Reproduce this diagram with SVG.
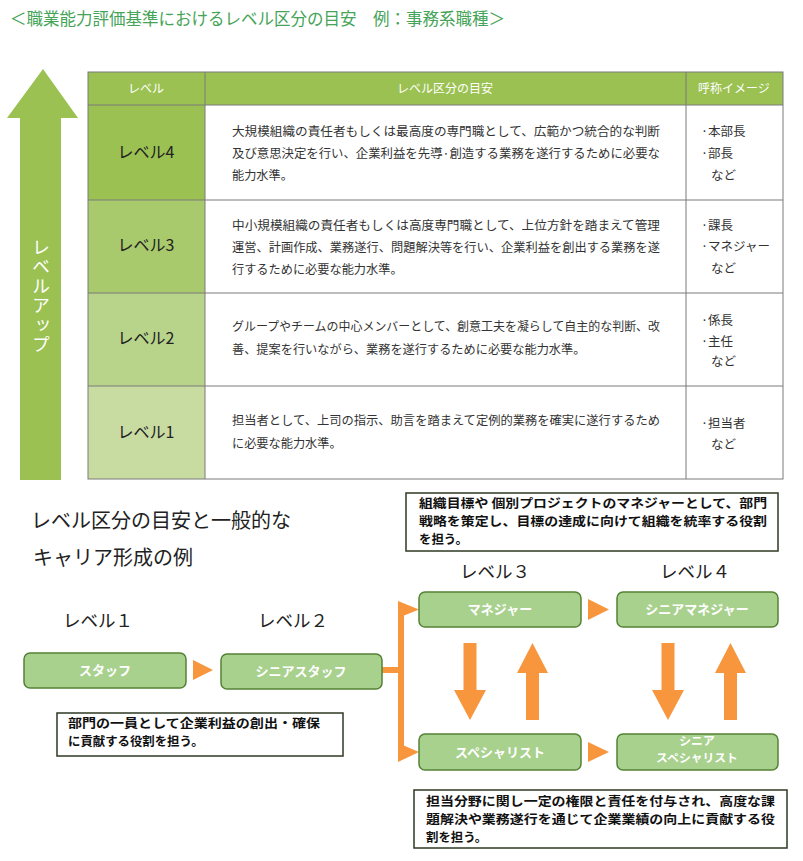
<svg xmlns="http://www.w3.org/2000/svg" width="803" height="861" viewBox="0 0 803 861">
<style>
text{font-family:"Noto Sans CJK JP","Noto Sans",sans-serif;}
.title{font-size:16.5px;fill:#45a457;}
.hdr{font-size:12px;fill:#ffffff;text-anchor:middle;}
.lvl{font-size:16px;fill:#222222;text-anchor:middle;}
.desc{font-size:12.2px;fill:#333333;}
.name{font-size:12.5px;fill:#333333;}
.grid{stroke:#7a7a7a;stroke-width:1;fill:none;}
.h2{font-size:20px;fill:#222222;}
.lv{font-size:17.5px;fill:#222222;text-anchor:middle;}
.box{fill:#a9d18e;stroke:#548235;stroke-width:1.5;}
.btxt{font-size:13px;font-weight:bold;fill:#ffffff;text-anchor:middle;}
.call{fill:#ffffff;stroke:#2e3a22;stroke-width:1.5;}
.ctxt{font-size:12.4px;font-weight:bold;fill:#111111;}
.or{fill:#f7963c;}
</style>

<text class="title" x="10" y="25">＜職業能力評価基準におけるレベル区分の目安　例：事務系職種＞</text>

<g id="levelup-arrow">
  <polygon points="43,69 78,118 61,118 61,480 20,480 20,118 7,118" fill="#9bc152"/>
  <text x="41" y="238" style="writing-mode:vertical-rl;font-size:18px;fill:#ffffff;letter-spacing:1.5px">レベルアップ</text>
</g>

<g id="table">
  <rect x="88" y="72" width="695" height="33" fill="#9bc152"/>
  <rect x="88" y="105" width="117" height="95" fill="#9bc152"/>
  <rect x="88" y="200" width="117" height="93" fill="#a9ca6c"/>
  <rect x="88" y="293" width="117" height="93" fill="#b8d38a"/>
  <rect x="88" y="386" width="117" height="93" fill="#c8dca2"/>
  <rect x="88" y="72" width="695" height="407" class="grid"/>
  <path class="grid" d="M88 105H783M88 200H783M88 293H783M88 386H783M205 72V479M686 72V479"/>
  <text class="hdr" x="146" y="93">レベル</text>
  <text class="hdr" x="445" y="93">レベル区分の目安</text>
  <text class="hdr" x="734" y="93">呼称イメージ</text>

  <g id="row-level4">
    <text class="lvl" x="146" y="158">レベル4</text>
    <text class="desc" x="232" y="136" textLength="428" lengthAdjust="spacingAndGlyphs">大規模組織の責任者もしくは最高度の専門職として、広範かつ統合的な判断</text>
    <text class="desc" x="232" y="158" textLength="428" lengthAdjust="spacingAndGlyphs">及び意思決定を行い、企業利益を先導·創造する業務を遂行するために必要な</text>
    <text class="desc" x="232" y="180">能力水準。</text>
    <text class="name" x="701" y="136">·本部長</text>
    <text class="name" x="701" y="158">·部長</text>
    <text class="name" x="711" y="180">など</text>
  </g>
  <g id="row-level3">
    <text class="lvl" x="146" y="251">レベル3</text>
    <text class="desc" x="232" y="230" textLength="428" lengthAdjust="spacingAndGlyphs">中小規模組織の責任者もしくは高度専門職として、上位方針を踏まえて管理</text>
    <text class="desc" x="232" y="252" textLength="428" lengthAdjust="spacingAndGlyphs">運営、計画作成、業務遂行、問題解決等を行い、企業利益を創出する業務を遂</text>
    <text class="desc" x="232" y="274">行するために必要な能力水準。</text>
    <text class="name" x="701" y="230">·課長</text>
    <text class="name" x="701" y="251">·マネジャー</text>
    <text class="name" x="711" y="273">など</text>
  </g>
  <g id="row-level2">
    <text class="lvl" x="146" y="344">レベル2</text>
    <text class="desc" x="232" y="331" textLength="428" lengthAdjust="spacingAndGlyphs">グループやチームの中心メンバーとして、創意工夫を凝らして自主的な判断、改</text>
    <text class="desc" x="232" y="354">善、提案を行いながら、業務を遂行するために必要な能力水準。</text>
    <text class="name" x="701" y="325">·係長</text>
    <text class="name" x="701" y="346">·主任</text>
    <text class="name" x="711" y="366">など</text>
  </g>
  <g id="row-level1">
    <text class="lvl" x="146" y="438">レベル1</text>
    <text class="desc" x="232" y="425" textLength="428" lengthAdjust="spacingAndGlyphs">担当者として、上司の指示、助言を踏まえて定例的業務を確実に遂行するため</text>
    <text class="desc" x="232" y="448">に必要な能力水準。</text>
    <text class="name" x="701" y="428">·担当者</text>
    <text class="name" x="711" y="449">など</text>
  </g>
</g>

<g id="career-heading">
  <text class="h2" x="31" y="528">レベル区分の目安と一般的な</text>
  <text class="h2" x="33" y="565">キャリア形成の例</text>
</g>

<g id="level-labels">
  <text class="lv" x="98" y="627">レベル１</text>
  <text class="lv" x="293" y="627">レベル２</text>
  <text class="lv" x="495" y="578">レベル３</text>
  <text class="lv" x="695" y="578">レベル４</text>
</g>

<g id="connectors">
  <polygon class="or" points="193,660 213,670 193,680"/>
  <rect class="or" x="381" y="667" width="21" height="6"/>
  <rect class="or" x="398" y="606" width="6" height="149"/>
  <polygon class="or" points="398,601 419,609.5 398,618"/>
  <polygon class="or" points="398,743 419,752 398,762"/>
  <polygon class="or" points="588,599 609,609.5 588,620"/>
  <polygon class="or" points="588,742 609,752 588,762"/>
  <path class="or" d="M463.5 643H476.5V690H486L470 720L454 690H463.5Z"/>
  <path class="or" d="M526 720H539V673H548L532.5 643L517 673H526Z"/>
  <path class="or" d="M661.5 643H674.5V690H684L668 720L652 690H661.5Z"/>
  <path class="or" d="M724 720H737V673H746L730.5 643L715 673H724Z"/>
</g>

<g id="node-staff">
  <rect class="box" x="24" y="653" width="162" height="35" rx="6"/>
  <text class="btxt" x="105" y="675">スタッフ</text>
</g>
<g id="node-senior-staff">
  <rect class="box" x="221" y="654" width="161" height="35" rx="6"/>
  <text class="btxt" x="301" y="676">シニアスタッフ</text>
</g>
<g id="node-manager">
  <rect class="box" x="419" y="592" width="162" height="35" rx="6"/>
  <text class="btxt" x="500" y="614">マネジャー</text>
</g>
<g id="node-senior-manager">
  <rect class="box" x="617" y="592" width="161" height="35" rx="6"/>
  <text class="btxt" x="697" y="614">シニアマネジャー</text>
</g>
<g id="node-specialist">
  <rect class="box" x="419" y="734" width="162" height="36" rx="6"/>
  <text class="btxt" x="500" y="757">スペシャリスト</text>
</g>
<g id="node-senior-specialist">
  <rect class="box" x="617" y="734" width="161" height="36" rx="6"/>
  <text class="btxt" style="font-size:11.8px"><tspan x="697" y="744.5">シニア</tspan><tspan x="697" y="761.7">スペシャリスト</tspan></text>
</g>

<g id="note-manager">
  <rect class="call" x="406" y="493" width="372" height="58"/>
  <text class="ctxt"><tspan x="419" y="508" textLength="348" lengthAdjust="spacingAndGlyphs">組織目標や 個別プロジェクトのマネジャーとして、部門</tspan><tspan x="419" y="526" textLength="348" lengthAdjust="spacingAndGlyphs">戦略を策定し、目標の達成に向けて組織を統率する役割</tspan><tspan x="419" y="544">を担う。</tspan></text>
</g>
<g id="note-staff">
  <rect class="call" x="57" y="713" width="286" height="43"/>
  <text class="ctxt"><tspan x="68" y="728" textLength="252" lengthAdjust="spacingAndGlyphs">部門の一員として企業利益の創出・確保</tspan><tspan x="68" y="746">に貢献する役割を担う。</tspan></text>
</g>
<g id="note-specialist">
  <rect class="call" x="414" y="790" width="373" height="58"/>
  <text class="ctxt"><tspan x="426" y="806" textLength="349" lengthAdjust="spacingAndGlyphs">担当分野に関し一定の権限と責任を付与され、高度な課</tspan><tspan x="426" y="824" textLength="349" lengthAdjust="spacingAndGlyphs">題解決や業務遂行を通じて企業業績の向上に貢献する役</tspan><tspan x="426" y="842">割を担う。</tspan></text>
</g>
</svg>
